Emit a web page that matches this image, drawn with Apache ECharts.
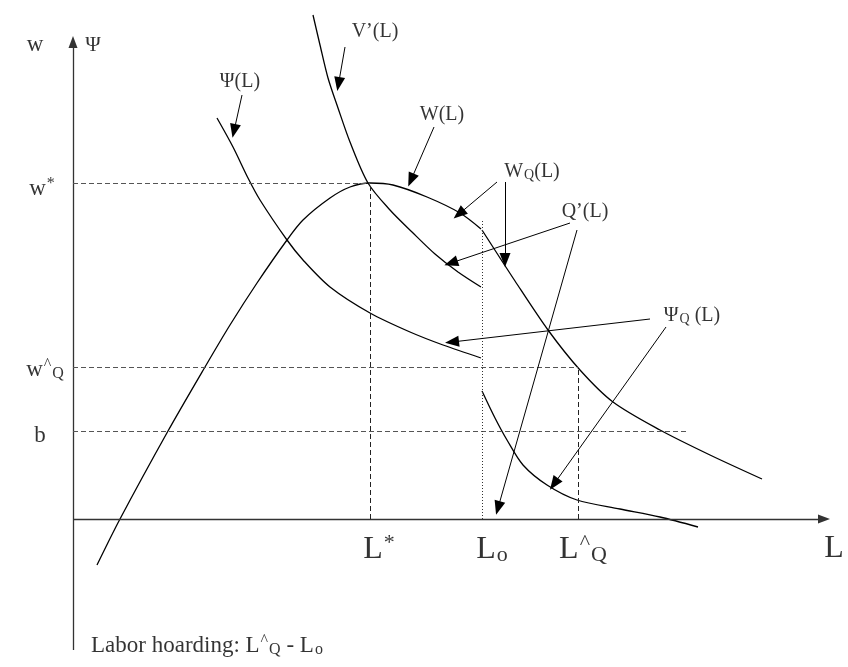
<!DOCTYPE html>
<html>
<head>
<meta charset="utf-8">
<script src="https://cdn.jsdelivr.net/npm/echarts@6/dist/echarts.min.js"></script>
<style>
  html, body { margin: 0; padding: 0; background: #fff; }
  #chart { width: 848px; height: 667px; }
</style>
</head>
<body>
<div id="chart"></div>
<script>
// curves, in diagram units (origin where the axes cross)
var wCurve = [[0.48, -0.92], [0.94, 0.00], [1.90, 1.76], [2.64, 3.04], [3.14, 3.88], [3.68, 4.72],
  [4.28, 5.58], [4.60, 5.98], [5.14, 6.42], [5.54, 6.64], [5.94, 6.72], [6.40, 6.68],
  [7.08, 6.44], [7.74, 6.12], [8.16, 5.80]];
var wqCurve = [[8.18, 5.78], [8.84, 4.76], [9.50, 3.78], [10.14, 2.98], [10.80, 2.34],
  [11.74, 1.78], [12.74, 1.28], [13.78, 0.80]];
var vCurve = [[4.80, 10.08], [4.94, 9.48], [5.10, 8.82], [5.30, 8.22], [5.54, 7.54], [5.90, 6.72],
  [6.34, 6.18], [6.78, 5.74], [7.24, 5.30], [7.70, 4.94], [8.16, 4.64]];
var psiCurve = [[2.88, 8.02], [3.20, 7.44], [3.50, 6.82], [3.74, 6.38], [4.28, 5.58], [4.60, 5.18],
  [5.14, 4.64], [5.94, 4.12], [6.74, 3.74], [7.40, 3.48], [8.16, 3.22]];
var psiqCurve = [[8.18, 2.56], [8.44, 2.02], [8.68, 1.58], [9.00, 1.08], [9.48, 0.68],
  [10.08, 0.38], [10.94, 0.20], [11.74, 0.04], [12.50, -0.16]];

// levels on the axes
var wStar = 6.72, wHatQ = 3.04, bLevel = 1.76;
var lStar = 5.94, lO = 8.18, lHatQ = 10.10;
var bEnd = 12.28, lOTop = 5.98;
var xAxisEnd = 15.02, yAxisTop = 9.54, yAxisBottom = -2.62;

// pointer arrows [from, to]
var pointers = [
  [[3.38, 8.48], [3.22, 7.76]],
  [[5.44, 9.44], [5.31, 8.70]],
  [[7.22, 7.84], [6.76, 6.78]],
  [[8.48, 6.74], [7.72, 6.10]],
  [[8.64, 6.74], [8.64, 5.18]],
  [[9.94, 5.92], [7.56, 5.12]],
  [[10.08, 5.78], [8.50, 0.22]],
  [[11.54, 4.00], [7.58, 3.54]],
  [[11.86, 3.84], [9.62, 0.70]]
];

// texts
var curveNames = ['Ψ(L)', 'V’(L)', 'W(L)', 'W{sub|Q}(L)', 'Q’(L)', 'Ψ{sub|Q} (L)'];
var curveSpots = [[3.34, 8.74], [6.04, 9.74], [7.38, 8.08], [9.18, 6.94], [10.24, 6.14], [12.38, 4.06]];
var wageNames = ['w', 'w{sup|*}', 'w{sup|^}{sub|Q}', 'b'];
var wageSpots = [[-0.76, 9.48], [-0.62, 6.60], [-0.56, 2.98], [-0.66, 1.66]];
var axisNames = ['L{sup|*}', 'L{sub|o}', 'L{sup|^}{sub|Q}', 'L'];
var axisSpots = [[6.12, -0.62], [8.38, -0.62], [10.20, -0.62], [15.22, -0.60]];

var chart = echarts.init(document.getElementById('chart'));

function curve(name, pts) {
  return {
    name: name, type: 'line', data: pts, smooth: 0.3, symbol: 'none',
    lineStyle: { color: '#000', width: 1.3 }, silent: true
  };
}

// one markLine segment, optional arrow head at the end
function seg(a, b, style, head) {
  return [
    { coord: a, symbol: 'none', lineStyle: style },
    { coord: b, symbol: head ? 'triangle' : 'none', symbolSize: head || 0 }
  ];
}

function textSeries(names, spots, size, pos) {
  var small = Math.round(size * 0.7);
  return {
    type: 'scatter', symbolSize: 0, silent: true,
    data: spots.map(function (p, i) { return { value: p, name: names[i] }; }),
    label: {
      show: true, position: pos || 'inside', distance: 0,
      formatter: function (p) { return p.name; },
      fontFamily: 'Liberation Serif', fontSize: size, color: '#000',
      textBorderWidth: 0,
      rich: {
        sub: { fontFamily: 'Liberation Serif', fontSize: small, color: '#000', textBorderWidth: 0, padding: [Math.round(size * 0.35), 0, 0, 1] },
        sup: { fontFamily: 'Liberation Serif', fontSize: small, color: '#000', textBorderWidth: 0, padding: [0, 0, Math.round(size * 0.45), 1] }
      }
    }
  };
}

var axisStyle = { color: '#333', width: 1.3, type: 'solid' };
var dashH = { color: '#555', width: 1, type: [5, 3] };
var dashV = { color: '#222', width: 1, type: [5, 3] };
var dotted = { color: '#333', width: 1, type: [1, 2] };
var pointerStyle = { color: '#000', width: 1, type: 'solid' };

var guideLines = {
  type: 'line', data: [], silent: true,
  markLine: {
    silent: true, animation: false, symbol: ['none', 'none'],
    label: { show: false },
    emphasis: { disabled: true },
    data: [
      seg([0, yAxisBottom], [0, yAxisTop], axisStyle, [9, 12]),
      seg([0, 0], [xAxisEnd, 0], axisStyle, [9, 12]),
      seg([0, wStar], [lStar, wStar], dashH),
      seg([lStar, 0], [lStar, wStar], dashV),
      seg([0, wHatQ], [lHatQ, wHatQ], dashH),
      seg([lHatQ, 0], [lHatQ, wHatQ], dashV),
      seg([0, bLevel], [bEnd, bLevel], dashH),
      seg([lO, 0], [lO, lOTop], dotted)
    ].concat(pointers.map(function (p) {
      return seg(p[0], p[1], pointerStyle, [11, 14]);
    }))
  }
};

var option = {
  animation: false,
  backgroundColor: '#fff',
  grid: { left: 0, right: 0, top: 0, bottom: 0 },
  xAxis: { type: 'value', min: -1.46, max: 15.5, show: false },
  yAxis: { type: 'value', min: -2.96, max: 10.38, show: false },
  series: [
    curve('W(L)', wCurve),
    curve('WQ(L)', wqCurve),
    curve("V'(L)", vCurve),
    curve('Psi(L)', psiCurve),
    curve('PsiQ(L)', psiqCurve),
    guideLines,
    textSeries(curveNames, curveSpots, 20),
    textSeries(wageNames, wageSpots, 23),
    textSeries(axisNames, axisSpots, 32),
    textSeries(['Ψ'], [[0.40, 9.48]], 21),
    textSeries(['Labor hoarding: L{sup|^}{sub|Q} - L{sub|o}'], [[0.36, -2.54]], 23, 'right')
  ]
};

chart.setOption(option);
</script>
</body>
</html>
